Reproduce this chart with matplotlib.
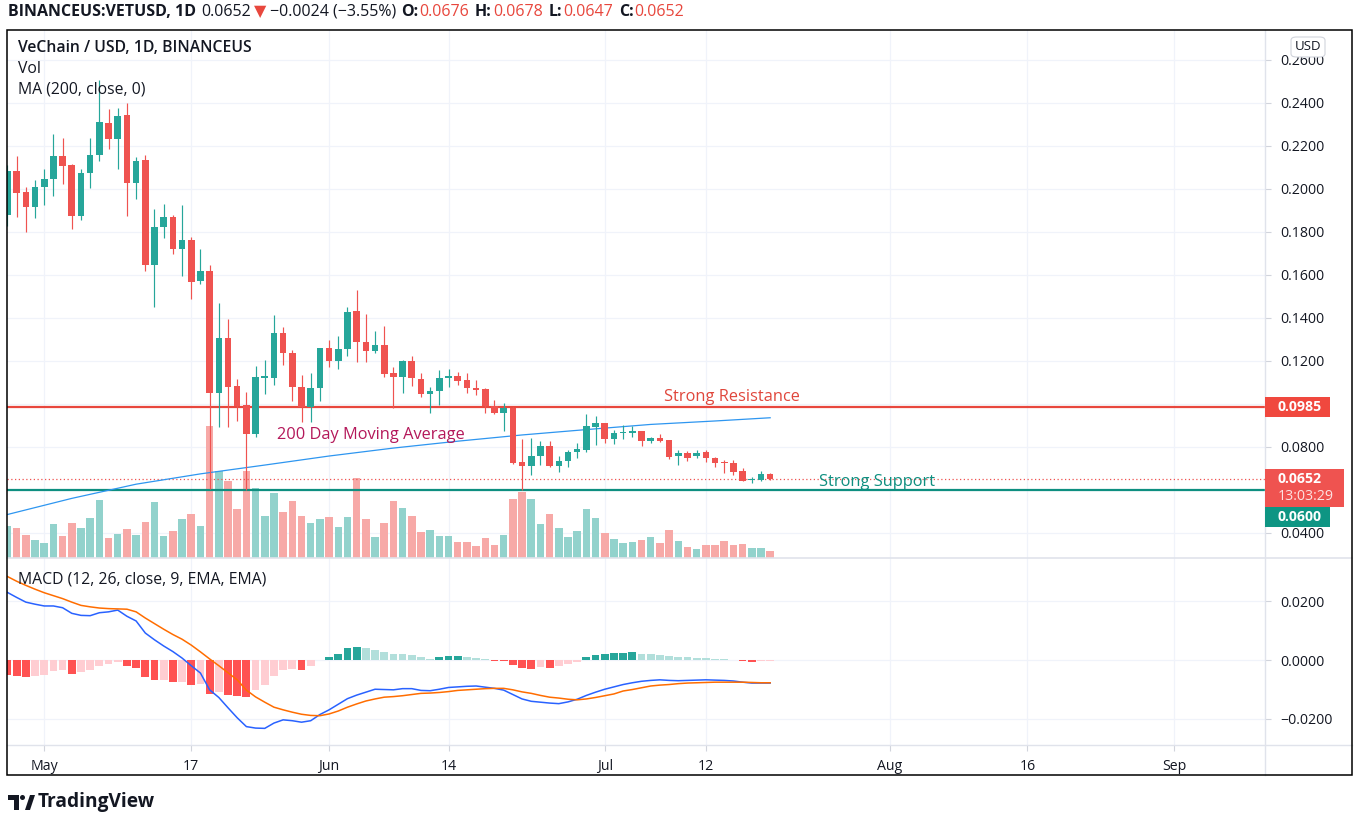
import numpy as np
import pandas as pd
import matplotlib
matplotlib.use("Agg")
import matplotlib.pyplot as plt
import matplotlib.dates as mdates
import matplotlib.patches as mpatches
import matplotlib.transforms as mtrans
from matplotlib.lines import Line2D

plt.rcParams['font.family'] = ['Open Sans', 'DejaVu Sans']

# ---------------- data ----------------
start_date = "2021-04-27"

open_ = [0.1879, 0.2084, 0.1984, 0.1915, 0.2008, 0.2046, 0.2153, 0.2111, 0.1876, 0.2073,
         0.2158, 0.2308, 0.2234, 0.2344, 0.2029, 0.2135, 0.1646, 0.1822, 0.1868, 0.1721,
         0.1763, 0.1572, 0.1619, 0.1053, 0.1306, 0.1084, 0.0995, 0.0859, 0.1120, 0.1122,
         0.1332, 0.1239, 0.1080, 0.0985, 0.1073, 0.1259, 0.1201, 0.1254, 0.1433, 0.1290,
         0.1248, 0.1274, 0.1143, 0.1127, 0.1200, 0.1115, 0.1045, 0.1062, 0.1120, 0.1130,
         0.1112, 0.1073, 0.1070, 0.0992, 0.0960, 0.0980, 0.0732, 0.0712, 0.0756, 0.0805,
         0.0712, 0.0735, 0.0777, 0.0786, 0.0895, 0.0910, 0.0837, 0.0864, 0.0867, 0.0874,
         0.0828, 0.0843, 0.0833, 0.0758, 0.0771, 0.0758, 0.0778, 0.0750, 0.0727, 0.0727,
         0.0690, 0.0645, 0.0648, 0.0676]
high = [0.2110, 0.2153, 0.2010, 0.2042, 0.2091, 0.2256, 0.2238, 0.2115, 0.2091, 0.2238,
        0.2507, 0.2370, 0.2375, 0.2398, 0.2150, 0.2158, 0.1905, 0.1930, 0.1879, 0.1925,
        0.1778, 0.1721, 0.1646, 0.1471, 0.1394, 0.1115, 0.1057, 0.1177, 0.1205, 0.1414,
        0.1359, 0.1251, 0.1135, 0.1143, 0.1260, 0.1298, 0.1316, 0.1452, 0.1530, 0.1419,
        0.1340, 0.1363, 0.1174, 0.1205, 0.1223, 0.1143, 0.1080, 0.1158, 0.1161, 0.1150,
        0.1143, 0.1112, 0.1073, 0.1019, 0.1006, 0.0988, 0.0836, 0.0841, 0.0829, 0.0829,
        0.0758, 0.0786, 0.0817, 0.0952, 0.0944, 0.0912, 0.0879, 0.0902, 0.0898, 0.0876,
        0.0848, 0.0859, 0.0834, 0.0786, 0.0783, 0.0786, 0.0786, 0.0755, 0.0740, 0.0740,
        0.0701, 0.0659, 0.0689, 0.0678]
low = [0.1830, 0.1871, 0.1801, 0.1864, 0.1925, 0.1967, 0.2023, 0.1812, 0.1856, 0.2003,
       0.2131, 0.2186, 0.2091, 0.1876, 0.1952, 0.1620, 0.1452, 0.1773, 0.1698, 0.1595,
       0.1487, 0.1557, 0.0605, 0.0894, 0.0892, 0.0922, 0.0600, 0.0848, 0.1047, 0.1088,
       0.1181, 0.1015, 0.0918, 0.0918, 0.1015, 0.1171, 0.1163, 0.1223, 0.1197, 0.1197,
       0.1239, 0.1127, 0.0980, 0.1053, 0.1085, 0.1031, 0.0960, 0.0995, 0.1078, 0.1088,
       0.1050, 0.1042, 0.0957, 0.0954, 0.0876, 0.0720, 0.0600, 0.0670, 0.0716, 0.0706,
       0.0685, 0.0706, 0.0750, 0.0778, 0.0809, 0.0817, 0.0814, 0.0837, 0.0845, 0.0805,
       0.0817, 0.0825, 0.0744, 0.0716, 0.0736, 0.0748, 0.0732, 0.0706, 0.0678, 0.0670,
       0.0641, 0.0631, 0.0643, 0.0647]
close = [0.2084, 0.1980, 0.1915, 0.2008, 0.2046, 0.2153, 0.2108, 0.1876, 0.2073, 0.2158,
         0.2311, 0.2234, 0.2339, 0.2029, 0.2131, 0.1646, 0.1822, 0.1868, 0.1721, 0.1763,
         0.1569, 0.1619, 0.1053, 0.1306, 0.1080, 0.0992, 0.0859, 0.1124, 0.1128, 0.1332,
         0.1236, 0.1080, 0.0985, 0.1073, 0.1259, 0.1201, 0.1256, 0.1429, 0.1290, 0.1248,
         0.1274, 0.1140, 0.1124, 0.1200, 0.1120, 0.1045, 0.1062, 0.1120, 0.1130, 0.1108,
         0.1073, 0.1065, 0.0992, 0.0960, 0.0980, 0.0724, 0.0712, 0.0758, 0.0805, 0.0712,
         0.0735, 0.0778, 0.0789, 0.0898, 0.0910, 0.0837, 0.0864, 0.0871, 0.0874, 0.0828,
         0.0841, 0.0829, 0.0755, 0.0771, 0.0750, 0.0774, 0.0748, 0.0724, 0.0724, 0.0685,
         0.0643, 0.0650, 0.0673, 0.0652]
volume = [32.0, 29.7, 23.0, 18.0, 15.3, 34.0, 22.0, 35.3, 29.7, 39.7,
          58.0, 19.7, 24.0, 28.7, 23.0, 35.6, 55.6, 22.3, 26.6, 39.3,
          44.3, 32.3, 132.3, 86.6, 76.6, 49.3, 86.6, 70.0, 42.0, 64.6,
          45.6, 57.3, 42.3, 34.6, 39.0, 41.3, 31.3, 40.6, 80.0, 39.0,
          20.6, 34.6, 57.5, 50.0, 41.6, 25.6, 27.6, 22.3, 22.3, 15.6,
          15.6, 11.6, 20.0, 13.3, 23.3, 59.0, 66.3, 58.7, 33.7, 43.7,
          30.0, 21.0, 26.7, 48.7, 40.0, 25.4, 18.7, 15.0, 16.0, 17.7,
          21.0, 15.0, 27.7, 17.0, 11.0, 8.7, 12.7, 12.7, 16.7, 12.7,
          13.7, 10.0, 10.3, 6.7]
macd = [0.0230, 0.0213, 0.0197, 0.0190, 0.0184, 0.0184, 0.0178, 0.0159, 0.0152, 0.0151,
        0.0161, 0.0164, 0.0170, 0.0149, 0.0133, 0.0092, 0.0069, 0.0048, 0.0029, 0.0007,
        -0.0019, -0.0044, -0.0101, -0.0127, -0.0162, -0.0196, -0.0226, -0.0231, -0.0232, -0.0214,
        -0.0203, -0.0206, -0.0211, -0.0206, -0.0185, -0.0169, -0.0150, -0.0131, -0.0119, -0.0109,
        -0.0099, -0.0100, -0.0101, -0.0097, -0.0097, -0.0103, -0.0104, -0.0099, -0.0093, -0.0091,
        -0.0089, -0.0088, -0.0092, -0.0096, -0.0102, -0.0117, -0.0132, -0.0140, -0.0143, -0.0146,
        -0.0148, -0.0142, -0.0133, -0.0120, -0.0109, -0.0099, -0.0091, -0.0083, -0.0077, -0.0072,
        -0.0069, -0.0067, -0.0069, -0.0070, -0.0069, -0.0068, -0.0067, -0.0068, -0.0069, -0.0071,
        -0.0075, -0.0078, -0.0078, -0.0078]
signal = [0.0284, 0.0268, 0.0254, 0.0241, 0.0229, 0.0219, 0.0209, 0.0197, 0.0186, 0.0181,
          0.0177, 0.0175, 0.0174, 0.0173, 0.0164, 0.0143, 0.0124, 0.0105, 0.0087, 0.0071,
          0.0051, 0.0028, 0.0004, -0.0019, -0.0043, -0.0067, -0.0102, -0.0125, -0.0143, -0.0160,
          -0.0169, -0.0177, -0.0184, -0.0188, -0.0189, -0.0183, -0.0173, -0.0160, -0.0149, -0.0139,
          -0.0132, -0.0126, -0.0124, -0.0121, -0.0117, -0.0113, -0.0112, -0.0110, -0.0107, -0.0103,
          -0.0101, -0.0099, -0.0097, -0.0096, -0.0096, -0.0101, -0.0108, -0.0113, -0.0120, -0.0126,
          -0.0129, -0.0133, -0.0135, -0.0132, -0.0127, -0.0121, -0.0115, -0.0105, -0.0100, -0.0094,
          -0.0088, -0.0085, -0.0083, -0.0080, -0.0078, -0.0077, -0.0076, -0.0075, -0.0075, -0.0075,
          -0.0075, -0.0076, -0.0077, -0.0077]
hist = [-0.0052, -0.0055, -0.0059, -0.0053, -0.0050, -0.0038, -0.0035, -0.0047, -0.0042, -0.0035,
        -0.0019, -0.0013, -0.0006, -0.0021, -0.0028, -0.0059, -0.0069, -0.0068, -0.0076, -0.0074,
        -0.0084, -0.0082, -0.0114, -0.0110, -0.0118, -0.0121, -0.0127, -0.0103, -0.0084, -0.0053,
        -0.0035, -0.0030, -0.0032, -0.0021, 0.0002, 0.0011, 0.0022, 0.0040, 0.0044, 0.0040,
        0.0036, 0.0029, 0.0022, 0.0021, 0.0018, 0.0009, 0.0005, 0.0009, 0.0013, 0.0014,
        0.0009, 0.0008, 0.0005, -0.0002, -0.0003, -0.0018, -0.0028, -0.0029, -0.0025, -0.0026,
        -0.0021, -0.0013, -0.0005, 0.0009, 0.0019, 0.0020, 0.0023, 0.0024, 0.0026, 0.0022,
        0.0021, 0.0017, 0.0013, 0.0011, 0.0009, 0.0008, 0.0006, 0.0005, 0.0003, 0.0002,
        -0.0002, -0.0007, -0.0003, -0.0002]
ma_dates = ["2021-04-27", "2021-05-04", "2021-05-11", "2021-05-18", "2021-05-25", "2021-06-01",
            "2021-06-08", "2021-06-15", "2021-06-22", "2021-06-29", "2021-07-06", "2021-07-13",
            "2021-07-19"]
ma200 = [0.0486, 0.0561, 0.0627, 0.0675, 0.0716, 0.0758, 0.0795, 0.0827, 0.0856, 0.0881,
         0.0905, 0.0921, 0.0936]

resistance = 0.0985
support = 0.0600
last_price = 0.0652
countdown = "13:03:29"

price_ticks = [0.04, 0.06, 0.08, 0.10, 0.12, 0.14, 0.16, 0.18, 0.20, 0.22, 0.24, 0.26]
price_tick_labels = ["0.0400", "", "0.0800", "", "0.1200", "0.1400", "0.1600", "0.1800",
                     "0.2000", "0.2200", "0.2400", "0.2600"]
macd_ticks = [-0.02, 0.0, 0.02]
macd_tick_labels = ["\u22120.0200", "0.0000", "0.0200"]
date_ticks = ["2021-05-01", "2021-05-17", "2021-06-01", "2021-06-14", "2021-07-01",
              "2021-07-12", "2021-08-01", "2021-08-16", "2021-09-01"]
date_tick_labels = ["May", "17", "Jun", "14", "Jul", "12", "Aug", "16", "Sep"]

# annotation anchors: (date, price)
resist_label = ("2021-07-14 19:00", 0.1031)
support_label = ("2021-07-30 16:00", 0.0639)
ma_label = ("2021-06-05 12:00", 0.0857)

# ---------------- styles ----------------
UP, DOWN = '#26A69A', '#EF5350'
VOL_UP, VOL_DOWN = '#92D2CC', '#F7A9A7'
GRID = '#F0F3FA'
TXT = '#131722'
W, H = 1359, 826

fig = plt.figure(figsize=(W / 100, H / 100), dpi=100)
fig.patch.set_facecolor('white')


def fx(x):
    return x / W


def fy(y):
    return 1 - y / H


L, R, T1, B1, B2 = 7, 1265, 30, 558, 745
ax = fig.add_axes([fx(L), fy(B1), (R - L) / W, (B1 - T1) / H])
axm = fig.add_axes([fx(L), fy(B2), (R - L) / W, (B2 - B1) / H], sharex=ax)

dates = pd.date_range(start_date, periods=len(close), freq='D')
xd = mdates.date2num(dates)
o = np.array(open_); c = np.array(close); hi = np.array(high); lo = np.array(low)
up = c >= o

x0 = xd[0]
ax.set_xlim(x0 - 0.05, x0 + 136.85)
ax.set_ylim(0.02837, 0.27395)
axm.set_ylim(-0.02885, 0.03470)

for a in (ax, axm):
    a.set_facecolor('none')
    for s in a.spines.values():
        s.set_visible(False)
    a.set_axisbelow(True)

TICK_FS = 10.2
ax.set_yticks(price_ticks)
ax.set_yticklabels(price_tick_labels)
ax.yaxis.tick_right()
ax.tick_params(axis='y', length=4, color='#D1D4DC', labelsize=TICK_FS, labelcolor=TXT, pad=7)
ax.tick_params(axis='x', length=0, labelbottom=False)
ax.set_xticks(mdates.date2num(pd.to_datetime(date_ticks)))
ax.grid(True, color=GRID, lw=0.9)

axm.set_yticks(macd_ticks)
axm.set_yticklabels(macd_tick_labels)
axm.yaxis.tick_right()
axm.tick_params(axis='y', length=4, color='#D1D4DC', labelsize=TICK_FS, labelcolor=TXT, pad=7)
axm.set_xticks(mdates.date2num(pd.to_datetime(date_ticks)))
axm.set_xticklabels(date_tick_labels)
axm.tick_params(axis='x', length=4, color='#D1D4DC', labelsize=TICK_FS, labelcolor=TXT, pad=6)
axm.grid(True, color=GRID, lw=0.9)

# volume (bottom part of price pane)
vol_full = 528.0
blend = mtrans.blended_transform_factory(ax.transData, ax.transAxes)
ax.bar(xd, np.array(volume) / vol_full, width=0.82, bottom=0,
       color=[VOL_UP if u else VOL_DOWN for u in up], transform=blend, zorder=1)

# levels
ax.axhline(resistance, color='#E8473D', lw=1.6, zorder=2)
ax.axhline(support, color='#0E8F80', lw=1.6, zorder=2)
ax.axhline(last_price, color='#EF5350', lw=0.9, ls=(0, (1, 2)), zorder=2)

# MA 200
ax.plot(mdates.date2num(pd.to_datetime(ma_dates)), ma200, color='#2E96F0', lw=0.9, zorder=3)

# candles
cols = np.where(up, UP, DOWN)
ax.vlines(xd, lo, hi, colors=cols, lw=0.85, zorder=4)
body_lo = np.minimum(o, c)
body_h = np.maximum(np.abs(c - o), 0.0005)
ax.bar(xd, body_h, bottom=body_lo, width=0.72, color=cols, zorder=5)

# annotations
ANN_FS = 11.8
ax.text(mdates.date2num(pd.Timestamp(resist_label[0])), resist_label[1], "Strong Resistance",
        color='#E0463B', fontsize=ANN_FS, ha='center', va='center', zorder=6)
ax.text(mdates.date2num(pd.Timestamp(support_label[0])), support_label[1], "Strong Support",
        color='#0E8F80', fontsize=ANN_FS, ha='center', va='center', zorder=6)
ax.text(mdates.date2num(pd.Timestamp(ma_label[0])), ma_label[1], "200 Day Moving Average",
        color='#B4185A', fontsize=ANN_FS, ha='center', va='center', zorder=6)

# MACD pane
hcols = []
prev = None
for h in hist:
    rising = prev is not None and h > prev
    if h >= 0:
        hcols.append('#26A69A' if rising else '#B2DFDB')
    else:
        hcols.append('#FFCDD2' if rising else '#FF5252')
    prev = h
axm.bar(xd, hist, width=0.85, color=hcols, zorder=2)
axm.plot(xd, macd, color='#2962FF', lw=1.1, zorder=3)
axm.plot(xd, signal, color='#FF6D00', lw=1.1, zorder=3)


# ---------------- frame & separators ----------------
def hline_px(y, x0_, x1_, color, lw):
    fig.add_artist(Line2D([fx(x0_), fx(x1_)], [fy(y), fy(y)], color=color, lw=lw,
                          transform=fig.transFigure))


def vline_px(x, y0_, y1_, color, lw):
    fig.add_artist(Line2D([fx(x), fx(x)], [fy(y0_), fy(y1_)], color=color, lw=lw,
                          transform=fig.transFigure))


FR = 1352
vline_px(R, T1, 775, '#E0E3EB', 1.0)
hline_px(B1, L, FR, '#E0E3EB', 1.2)
hline_px(B2, L, FR, '#E0E3EB', 1.0)
fig.add_artist(mpatches.Rectangle((fx(L), fy(775)), fx(FR) - fx(L), fy(T1) - fy(775),
                                  fill=False, ec='#000000', lw=1.1, transform=fig.transFigure,
                                  zorder=10))


# ---------------- price axis labels ----------------
def ypx(a, v):
    return H - a.transData.transform((0, v))[1]


def px_box(x0_, y0_, x1_, y1_, color, **kw):
    fig.add_artist(mpatches.Rectangle((fx(x0_), fy(y1_)), fx(x1_) - fx(x0_), fy(y0_) - fy(y1_),
                                      fc=color, ec='none', transform=fig.transFigure, zorder=11, **kw))


yr = ypx(ax, resistance)
px_box(R, yr - 10, 1330, yr + 10, '#F0483E')
fig.text(fx(1278), fy(yr), f"{resistance:.4f}", color='white', fontsize=TICK_FS, fontweight='bold',
         va='center', ha='left', zorder=12)

yl = ypx(ax, last_price)
px_box(R, yl - 10, 1344, yl + 28, '#EF5350')
fig.text(fx(1278), fy(yl), f"{last_price:.4f}", color='white', fontsize=TICK_FS, fontweight='bold',
         va='center', ha='left', zorder=12)
fig.text(fx(1278), fy(yl + 18), countdown, color='#FCE3E2', fontsize=TICK_FS,
         va='center', ha='left', zorder=12)

ys = ypx(ax, support) + 27
px_box(R, ys - 10, 1330, ys + 10, '#0E9583')
fig.text(fx(1278), fy(ys), f"{support:.4f}", color='white', fontsize=TICK_FS, fontweight='bold',
         va='center', ha='left', zorder=12)

# USD badge
fig.add_artist(mpatches.FancyBboxPatch((fx(1291), fy(57)), fx(1325) - fx(1291), fy(37) - fy(57),
                                       boxstyle='round,pad=0,rounding_size=0.004',
                                       fc='white', ec='#D1D4DC', lw=0.8,
                                       transform=fig.transFigure, zorder=11))
fig.text(fx(1308), fy(47), "USD", color=TXT, fontsize=9.5, ha='center', va='center', zorder=12)

# ---------------- legend texts ----------------
LEG_FS = 11.3
fig.text(fx(18), fy(48), "VeChain / USD, 1D, BINANCEUS", color=TXT, fontsize=LEG_FS,
         fontweight='semibold', va='center', ha='left')
fig.text(fx(18), fy(69), "Vol", color=TXT, fontsize=LEG_FS, va='center', ha='left')
fig.text(fx(18), fy(90), "MA (200, close, 0)", color=TXT, fontsize=LEG_FS, va='center', ha='left')
fig.text(fx(18), fy(579), "MACD (12, 26, close, 9, EMA, EMA)", color=TXT, fontsize=LEG_FS,
         va='center', ha='left')

# ---------------- header ----------------
RED = '#E8473D'
pieces = [("BINANCEUS:VETUSD, 1D", 'bold', TXT, 0),
          ("0.0652", 'normal', TXT, 5),
          ("\u25BC", 'normal', RED, 3),
          ("\u22120.0024 (\u22123.55%)", 'normal', TXT, 4),
          ("O:", 'bold', TXT, 5),
          ("0.0676", 'normal', RED, 1),
          ("H:", 'bold', TXT, 6),
          ("0.0678", 'normal', RED, 1),
          ("L:", 'bold', TXT, 6),
          ("0.0647", 'normal', RED, 1),
          ("C:", 'bold', TXT, 6),
          ("0.0652", 'normal', RED, 1)]
renderer = fig.canvas.get_renderer()
xcur = 8
for s, wgt, col, gap in pieces:
    xcur += gap
    t = fig.text(fx(xcur), fy(12), s, color=col, fontsize=11.5, fontweight=wgt,
                 va='center', ha='left')
    bb = t.get_window_extent(renderer)
    xcur += bb.width


# ---------------- TradingView logo ----------------
def poly_px(pts, color):
    fig.add_artist(mpatches.Polygon([(fx(a), fy(b)) for a, b in pts], closed=True, fc=color,
                                    ec='none', transform=fig.transFigure))


poly_px([(8, 795), (19, 795), (19, 810), (14, 810), (14, 800), (8, 800)], TXT)
fig.add_artist(mpatches.Ellipse((fx(22.5), fy(797.5)), 5 / W, 5 / H, fc=TXT, ec='none',
                                transform=fig.transFigure))
poly_px([(25, 810), (30, 795), (35, 795), (30, 810)], TXT)
fig.text(fx(38), fy(802.5), "TradingView", color=TXT, fontsize=13.8, fontweight='bold',
         va='center', ha='left')

fig.savefig("out.png", dpi=100, facecolor='white')
